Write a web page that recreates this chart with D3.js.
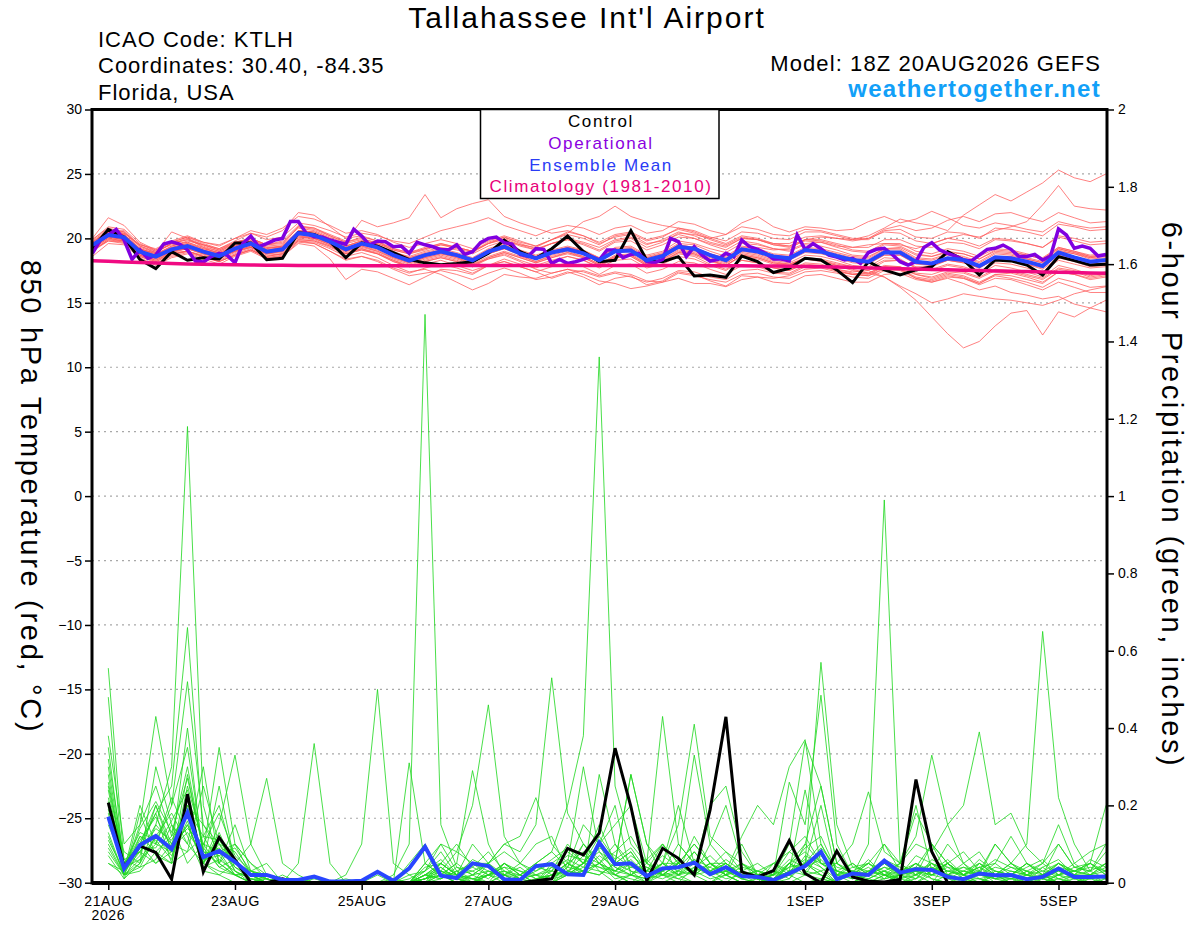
<!DOCTYPE html>
<html>
<head>
<meta charset="utf-8">
<script src="https://d3js.org/d3.v7.min.js"></script>
<style>
  body { margin: 0; background: #fff; }
  svg { display: block; font-family: "Liberation Sans", Arial, Helvetica, sans-serif; }
</style>
</head>
<body>
<svg id="chart" width="1200" height="927"></svg>
<script>
// ---- data ----
const stationName = "Tallahassee Int'l Airport";
const infoLines = ["ICAO Code: KTLH", "Coordinates: 30.40, -84.35", "Florida, USA"];
const modelLine = "Model: 18Z 20AUG2026 GEFS";
const siteName = "weathertogether.net";
const legendLabels = ["Control", "Operational", "Ensemble Mean", "Climatology (1981-2010)"];

const xTickDates = ["2026-08-21T00Z", "2026-08-23T00Z", "2026-08-25T00Z", "2026-08-27T00Z",
  "2026-08-29T00Z", "2026-09-01T00Z", "2026-09-03T00Z", "2026-09-05T00Z"];
const xTickLabels = ["21AUG", "23AUG", "25AUG", "27AUG", "29AUG", "1SEP", "3SEP", "5SEP"];
const tempTicks = [-30, -25, -20, -15, -10, -5, 0, 5, 10, 15, 20, 25, 30];
const precipTicks = [0, 0.2, 0.4, 0.6, 0.8, 1, 1.2, 1.4, 1.6, 1.8, 2];

// 850 hPa temperature, 6-hourly from 18Z 20AUG
const tempControl = [19.2,20.7,20.1,18.35,17.65,18.97,18.3,18.5,18.4,19.65,19.65,18.35,18.45,
  20.45,20.3,19.75,18.5,19.65,19.4,18.9,18.35,18.1,17.95,18.05,18.19,18.84,
  19.87,18.97,18.45,19.2,20.18,18.97,18.19,18.3,20.6,18.3,18.19,18.58,17.08,
  17.16,16.98,18.63,18.19,17.35,17.68,18.45,18.32,17.55,16.56,18.19,17.55,17.16,
  17.55,17.8,18.97,18.32,17.16,18.32,18.25,17.93,17.16,18.58,18.27,17.93,18.0];

const tempMean = [19.48,20.26,20.08,18.97,18.58,19.15,19.4,18.97,18.63,19.2,19.6,18.97,19.15,
  20.4,20.25,19.74,19.15,19.6,19.3,18.7,18.27,18.7,18.97,18.7,18.3,18.97,
  19.35,18.84,18.45,18.9,19.15,18.84,18.3,19.0,19.05,18.3,18.63,19.35,19.2,
  18.7,18.3,19.15,18.97,18.6,18.45,19.1,18.97,18.63,18.32,18.19,18.9,18.9,
  18.19,18.06,18.45,18.32,17.86,18.53,18.45,18.19,17.86,18.9,18.53,18.19,18.32];

const tempClimo = [18.27,18.22,18.17,18.13,18.09,18.05,18.02,17.99,17.97,17.95,17.93,
  17.92,17.91,17.90,17.90,17.89,17.89,17.88,17.88,17.88,17.88,
  17.88,17.88,17.89,17.89,17.89,17.90,17.90,17.90,17.90,17.90,
  17.90,17.90,17.90,17.90,17.90,17.90,17.89,17.89,17.88,17.88,
  17.87,17.86,17.85,17.84,17.82,17.80,17.77,17.74,17.71,17.68,17.65,17.62,17.59,17.56,
  17.53,17.50,17.47,17.44,17.42,17.39,17.37,17.35,17.32,17.30];

// operational run is 3-hourly
const tempOper = [18.84,19.87,20.26,20.7,19.87,18.37,19.1,18.45,18.7,19.56,
  19.74,19.56,19.1,18.24,18.16,18.58,18.84,18.7,18.11,19.6,
  20.18,19.35,19.6,19.87,20.0,21.3,21.3,20.4,20.13,20.1,
  19.87,19.7,19.55,20.7,20.18,19.48,19.8,19.74,19.35,19.4,
  18.84,19.7,19.5,19.35,19.12,19.12,19.5,18.75,18.97,19.67,
  20.0,20.1,19.67,19.56,18.75,18.6,19.2,19.15,18.06,18.37,
  18.06,18.19,18.37,18.58,18.32,19.1,19.1,18.5,18.75,18.84,
  18.19,18.11,18.37,20.0,19.74,18.58,19.35,18.7,18.24,18.37,
  18.84,18.58,19.87,19.35,19.15,18.84,18.4,18.4,18.25,20.26,
  19.15,19.6,19.2,18.7,18.55,18.32,18.45,18.06,18.9,19.15,
  19.23,18.75,18.19,17.93,18.19,19.3,19.67,19.1,18.84,18.63,
  18.32,18.25,18.7,19.15,19.23,19.48,19.15,18.6,18.6,18.75,
  18.32,18.63,20.73,20.26,19.23,19.4,19.23,18.63,18.75];

const tempMembers = [
  [19.9,20.8,20.5,19.3,18.9,19.6,19.9,19.4,19.0,19.6,20.0,19.5,19.7,
   20.8,20.6,20.1,19.6,19.9,19.7,19.2,18.9,19.2,19.6,19.3,19.0,19.6,
   19.9,19.4,19.1,19.6,19.9,19.5,19.0,19.7,19.8,19.1,19.5,20.1,20.0,
   19.6,19.3,20.0,19.9,19.6,19.6,20.1,20.2,20.0,19.9,20.2,20.8,21.5,
   21.2,21.0,20.6,21.8,22.6,23.4,22.9,23.6,24.3,25.3,24.7,24.4,25.0],
  [19.2,20.1,19.9,18.8,18.4,18.9,19.2,18.8,18.5,19.0,19.3,18.8,19.0,
   20.1,20.0,19.5,19.0,19.4,19.0,18.5,18.1,18.5,18.8,18.6,18.2,18.8,
   19.2,18.8,18.4,18.9,19.3,19.0,18.5,19.3,19.4,18.7,19.0,19.8,19.6,
   19.2,18.9,19.6,19.5,19.2,19.1,19.6,19.7,19.4,19.3,19.5,19.6,19.5,
   19.2,19.6,20.0,20.3,20.1,20.6,20.9,21.3,22.6,24.1,22.5,22.3,22.2],
  [19.0,19.8,19.7,18.7,18.3,18.9,19.0,18.7,18.4,18.9,19.3,18.7,18.8,
   19.9,19.8,19.3,18.8,19.1,18.8,18.3,17.9,18.3,18.6,18.3,17.9,18.5,
   18.9,18.5,18.1,18.5,18.8,18.5,17.9,18.6,18.7,18.0,18.3,18.9,18.8,
   18.3,17.9,18.7,18.5,18.1,17.9,18.4,18.3,18.0,17.8,17.5,17.0,16.2,
   15.2,13.9,12.6,11.5,12.0,13.2,14.2,14.4,12.5,14.3,13.9,14.6,15.2],
  [19.3,20.2,20.0,18.9,18.5,19.0,19.3,18.9,18.5,19.0,19.4,18.9,19.0,
   20.2,20.1,19.6,19.0,19.3,19.0,18.4,18.0,18.4,18.7,18.4,18.0,18.6,
   19.0,18.6,18.2,18.6,18.9,18.6,18.0,18.6,18.7,18.0,18.4,19.0,18.8,
   18.3,17.9,18.7,18.5,18.1,18.0,18.4,18.2,17.9,17.6,17.3,17.0,16.3,
   15.7,15.0,15.3,15.7,15.5,15.3,15.2,15.0,14.8,15.2,15.7,16.0,16.25],
  [19.6,20.4,20.2,19.1,18.7,19.2,19.5,19.1,18.8,19.3,19.7,19.1,19.3,
   20.5,20.3,19.8,19.3,19.6,19.3,18.7,18.3,18.8,19.1,18.8,18.4,19.0,
   19.4,19.0,18.5,18.9,19.2,18.9,18.3,18.9,19.0,18.3,18.6,19.2,19.0,
   18.5,18.1,18.8,18.6,18.2,18.0,18.5,18.3,17.9,17.5,17.3,17.8,17.6,
   16.9,16.6,16.9,16.5,16.0,16.3,15.8,15.6,15.3,15.5,14.9,14.6,14.3],
  [19.4,20.5,20.6,19.4,18.9,19.6,20.0,19.5,19.1,19.7,20.0,19.5,19.8,
   21.0,20.8,20.3,19.8,21.4,20.9,21.2,21.6,23.4,21.6,22.3,22.7,23.0,
   21.7,21.2,20.8,20.4,20.6,20.2,19.6,20.1,20.3,19.6,19.8,20.3,20.0,
   19.5,19.1,19.8,19.6,19.2,19.0,19.5,19.4,19.1,18.7,18.6,19.2,19.3,
   18.7,18.6,18.9,18.8,18.4,19.0,18.9,18.7,18.4,19.2,18.9,18.6,18.7],
  [19.7,20.6,20.3,19.2,18.8,19.4,19.7,19.2,18.9,19.4,19.8,19.2,19.4,
   20.6,20.4,19.9,19.4,19.8,19.5,18.9,18.6,19.0,19.3,19.1,18.8,19.4,
   19.8,19.5,19.3,19.9,20.4,21.3,21.7,22.5,21.7,21.3,21.0,20.8,20.5,
   20.0,19.6,20.2,20.0,19.6,19.4,19.9,19.8,19.5,19.1,19.0,19.6,19.6,
   19.0,18.8,19.2,19.0,18.6,19.2,19.1,18.8,18.5,19.3,19.0,18.7,18.8],
  [19.1,19.9,19.7,18.6,18.2,18.8,19.0,18.6,18.2,18.7,19.1,18.5,18.7,
   19.8,19.7,19.2,18.6,18.9,18.5,17.9,17.4,17.6,17.2,16.6,16.0,16.5,
   17.2,17.0,16.9,17.3,17.6,17.2,16.7,16.5,16.1,16.3,16.6,17.3,17.1,
   16.8,16.6,17.2,17.3,17.0,16.9,17.4,17.5,17.3,17.0,16.9,17.5,17.6,
   17.2,16.9,17.3,17.1,16.6,17.2,17.3,17.0,16.6,17.4,17.2,16.9,17.1],
  [19.4,20.1,19.9,18.8,18.4,19.0,19.2,18.8,18.5,19.0,19.4,18.8,19.0,
   20.1,20.0,19.5,18.9,19.2,18.9,18.3,17.8,18.0,18.3,17.9,17.5,17.9,
   18.2,17.8,17.4,16.9,17.3,17.5,17.1,17.4,17.2,16.7,16.6,16.9,16.5,
   16.5,16.25,16.8,17.0,16.9,17.1,17.6,17.7,17.4,17.2,17.3,17.9,17.8,
   17.3,17.2,17.6,17.4,17.0,17.6,17.5,17.2,16.9,17.7,17.5,17.1,17.3],
  [19.8,20.7,20.4,19.4,19.0,19.6,19.9,19.5,19.1,19.6,20.0,19.5,19.6,
   20.9,20.7,20.2,19.7,20.1,19.8,19.2,18.9,19.3,19.6,19.3,19.0,19.6,
   20.0,19.5,19.1,19.6,19.9,19.6,19.1,19.8,20.0,19.3,19.7,20.4,20.3,
   20.0,20.3,21.2,21.7,20.9,20.5,20.9,20.8,20.6,20.7,21.3,21.7,21.2,
   21.5,22.1,21.6,21.0,20.8,21.2,21.0,20.7,20.5,21.3,21.0,20.8,20.9],
  [19.2,20.0,19.8,18.9,18.5,19.0,19.3,19.0,18.6,19.1,19.5,18.9,19.1,
   20.2,20.0,19.6,19.0,19.4,19.1,18.5,18.1,18.5,18.8,18.5,18.1,18.8,
   19.2,18.7,18.2,18.7,19.0,18.6,18.0,18.7,18.8,18.1,18.4,19.1,18.9,
   18.4,18.0,18.9,18.7,18.3,18.1,18.7,18.6,18.3,17.9,17.8,18.5,18.4,
   17.7,17.5,17.9,17.7,17.2,17.9,17.7,17.4,17.0,17.9,17.6,17.2,17.4],
  [19.7,20.5,20.3,19.2,18.8,19.3,19.6,19.2,18.9,19.4,19.8,19.2,19.4,
   20.6,20.5,20.0,19.4,19.8,19.5,18.9,18.5,18.9,19.2,18.9,18.5,19.2,
   19.6,19.1,18.7,19.1,19.4,19.1,18.5,19.2,19.3,18.6,18.9,19.6,19.5,
   19.0,18.6,19.4,19.2,18.8,18.7,19.3,19.2,18.9,18.6,18.5,19.2,19.2,
   18.5,18.4,18.8,18.6,18.2,18.9,18.8,18.5,18.2,19.2,18.9,18.5,18.6],
  [19.9,20.9,20.7,19.6,19.0,19.5,19.7,19.3,19.0,19.5,19.9,19.4,19.5,
   20.9,20.8,20.2,19.7,20.0,19.6,19.1,18.8,19.1,19.5,19.2,18.9,19.6,
   20.1,19.6,19.2,19.6,20.0,19.7,19.3,19.9,20.1,19.5,19.9,20.5,20.2,
   19.7,19.4,20.0,19.9,19.5,19.4,19.9,19.9,19.6,19.3,19.3,19.9,19.9,
   19.4,19.3,19.7,19.6,19.2,19.9,19.8,19.6,19.3,20.2,20.0,19.7,19.8],
  [19.0,19.9,19.8,18.7,18.3,18.8,19.0,18.6,18.3,18.8,19.2,18.6,18.8,
   19.9,19.8,19.4,18.8,19.2,18.8,18.2,17.8,18.2,18.5,18.2,17.8,18.4,
   18.8,18.3,17.9,18.3,18.6,18.3,17.7,18.3,18.4,17.7,18.0,18.6,18.4,
   17.9,17.5,18.3,18.1,17.7,17.5,18.1,18.0,17.6,17.3,17.2,17.8,17.8,
   17.2,17.0,17.4,17.3,16.9,17.5,17.4,17.1,16.8,17.6,17.4,17.0,17.2],
  [19.5,20.4,20.0,19.0,18.7,19.4,19.8,19.5,19.2,19.8,20.4,20.1,20.6,
   22.0,21.8,20.9,20.0,20.2,19.8,19.0,18.5,18.8,19.0,18.7,18.4,19.1,
   19.5,19.0,18.6,19.0,19.3,19.0,18.4,19.1,19.2,18.5,18.8,19.5,19.3,
   18.8,18.4,19.2,19.0,18.6,18.4,19.0,18.9,18.5,18.2,18.1,18.7,18.7,
   18.1,17.9,18.3,18.1,17.7,18.4,18.3,18.0,17.6,18.5,18.2,17.8,17.9],
  [20.0,21.6,21.0,19.7,19.1,19.7,20.1,19.6,19.2,19.7,20.0,19.3,19.3,
   20.5,20.2,19.7,19.1,19.5,19.2,18.6,18.2,18.6,18.9,18.6,18.2,18.9,
   19.3,18.8,18.4,18.8,19.1,18.8,18.2,18.9,19.0,18.3,18.6,19.3,19.1,
   18.6,18.2,19.0,18.8,18.4,18.3,18.9,18.8,18.5,18.1,18.0,18.7,18.7,
   18.0,17.9,18.3,18.1,17.7,18.4,18.3,18.0,17.7,18.7,18.4,18.0,18.1],
  [18.6,19.6,19.5,18.5,17.9,18.5,18.8,18.4,18.0,18.6,19.0,18.4,18.6,
   19.6,19.4,18.4,16.8,17.6,17.4,16.9,16.4,17.0,17.6,17.5,17.2,17.9,
   18.4,18.0,17.7,18.2,18.6,18.3,17.8,18.5,18.6,17.9,18.2,18.9,18.7,
   18.2,17.9,18.6,18.4,18.0,17.9,18.5,18.4,18.1,17.8,17.7,18.3,18.3,
   17.7,17.6,18.0,17.8,17.4,18.1,18.0,17.7,17.4,18.3,18.0,17.7,17.8],
  [19.3,20.2,20.2,19.1,18.9,20.5,20.0,19.3,18.8,19.3,19.7,19.1,19.3,
   20.5,20.3,19.9,19.3,19.7,19.4,18.8,18.4,18.8,19.1,18.8,18.4,19.1,
   19.5,19.0,18.6,19.0,19.3,19.0,18.4,19.1,19.2,18.5,18.8,19.5,19.3,
   18.8,18.4,19.2,19.1,18.7,18.6,19.2,19.1,18.8,18.5,18.4,19.1,19.1,
   18.4,18.3,18.7,18.5,18.1,18.8,18.7,18.4,18.1,19.1,18.8,18.4,18.5],
  [19.5,20.2,20.0,18.9,18.6,19.1,19.3,18.9,18.7,19.2,19.5,18.9,19.1,
   20.3,20.2,19.7,19.1,19.5,19.2,18.6,18.2,18.6,18.9,18.5,18.0,18.4,
   18.7,18.2,17.6,17.3,17.6,17.4,17.0,17.3,17.0,16.6,16.9,17.5,17.4,
   17.0,16.8,17.5,17.6,17.3,17.2,17.8,17.9,17.6,17.4,17.5,18.2,18.3,
   17.8,17.8,18.3,18.2,17.9,18.6,18.6,18.4,18.1,19.0,18.8,18.5,18.7],
  [19.6,20.5,20.3,19.2,18.7,19.3,19.6,19.1,18.8,19.4,19.8,19.3,19.4,
   20.6,20.5,20.0,19.4,19.8,19.6,19.1,18.8,19.2,19.5,19.3,19.0,19.7,
   20.1,19.7,19.4,19.9,20.3,20.0,19.5,20.2,20.4,19.8,20.1,20.8,20.6,
   20.1,19.8,20.5,20.4,20.0,19.9,20.5,20.5,20.2,19.9,19.9,20.6,20.7,
   20.1,20.0,20.5,20.4,20.0,20.8,20.7,20.5,20.2,21.1,20.9,20.6,20.7],
  [19.6,20.3,20.4,19.5,19.2,19.8,20.2,19.7,19.4,20.0,20.4,19.9,20.1,
   21.2,21.0,20.6,20.1,20.4,20.2,19.8,19.6,20.1,20.6,20.9,21.2,21.6,
   21.0,20.6,20.2,20.7,21.0,20.8,20.3,20.8,21.0,20.4,20.6,21.3,21.1,
   20.6,20.3,20.9,20.7,20.3,20.2,20.7,20.6,20.3,20.0,20.0,20.5,20.4,
   19.8,19.6,20.0,19.8,19.4,20.0,19.9,19.6,19.3,20.1,19.8,19.5,19.6],
  [19.1,19.8,19.6,18.6,18.1,18.6,18.9,18.5,18.2,18.7,19.1,18.6,18.8,
   19.8,19.6,19.0,18.4,18.6,18.2,17.6,17.1,17.3,17.5,17.2,16.8,17.3,
   17.7,17.3,16.8,17.0,17.4,17.0,16.4,16.9,17.1,16.4,16.7,17.4,17.2,
   16.7,16.3,17.1,17.0,16.6,16.5,17.1,17.2,16.9,16.6,16.6,17.2,17.3,
   16.8,16.6,17.0,16.9,16.5,17.2,17.1,16.8,16.5,17.4,17.2,16.8,17.0],
  [19.7,20.6,20.5,19.5,19.1,19.7,20.1,19.7,19.5,20.0,20.6,20.3,20.8,
   21.7,21.5,21.0,20.4,20.6,20.3,19.7,19.3,19.6,19.9,19.6,19.2,19.8,
   20.2,19.8,19.4,19.9,20.5,20.2,19.7,20.3,20.5,19.9,20.2,20.7,20.4,
   19.9,19.5,20.1,19.9,19.5,19.3,19.8,19.7,19.3,19.0,18.9,19.5,19.4,
   18.8,18.6,19.0,18.8,18.4,19.1,19.0,18.7,18.4,19.3,19.0,18.6,18.7],
  [19.2,20.0,19.8,18.7,18.2,18.7,19.0,18.6,18.2,18.7,19.1,18.5,18.6,
   19.7,19.6,19.0,18.3,18.6,18.3,17.7,17.3,17.7,18.0,17.7,17.3,17.9,
   18.2,17.8,17.4,17.8,18.1,17.8,17.2,17.9,18.0,17.3,17.6,18.2,18.1,
   17.6,17.2,17.9,17.8,17.4,17.3,17.9,17.8,17.5,17.2,17.1,17.7,17.6,
   17.0,16.8,17.2,17.0,16.5,17.1,16.9,16.6,16.2,16.9,16.6,16.2,16.3],
  [19.4,20.3,20.1,19.0,18.6,19.2,19.5,19.0,18.7,19.2,19.6,19.0,19.2,
   20.4,20.3,19.8,19.2,19.6,19.3,18.7,18.3,18.7,19.0,18.7,18.3,19.0,
   19.4,18.9,18.5,18.9,19.2,18.9,18.3,19.0,19.1,18.4,18.7,19.4,19.2,
   18.8,18.5,19.3,19.3,19.1,19.2,19.9,20.1,20.0,19.8,20.0,20.7,21.0,
   20.6,20.8,21.4,21.7,21.3,21.9,22.0,21.6,21.3,22.0,21.6,21.2,21.3],
  [19.3,20.1,19.9,18.9,18.5,19.0,19.2,18.8,18.5,19.0,19.3,18.8,18.9,
   20.0,19.9,19.4,18.8,19.1,18.8,18.2,17.8,18.2,18.5,18.2,17.8,18.5,
   18.9,18.5,18.1,18.5,18.9,18.5,17.9,18.5,18.6,17.9,18.2,18.8,18.6,
   18.0,17.6,18.3,18.1,17.7,17.5,18.0,17.9,17.5,17.2,17.1,17.6,17.5,
   16.9,16.7,17.1,16.9,16.4,16.9,16.8,16.4,16.0,16.6,16.2,15.8,15.8]
];

// 6-hour precipitation (inches), valid 00Z 21AUG onward
const precipControl = [0.207,0.04,0.095,0.078,0.009,0.229,0.028,0.117,0.06,0.0,0.0,0.01,0,0,0.003,0,
  0,0,0,0,0,0,0,0,0,0,0,0.005,0.01,0.089,0.072,0.128,
  0.348,0.197,0.005,0.089,0.063,0.02,0.188,0.429,0.028,0.015,0.031,0.109,0.024,0,0.082,0.015,
  0.004,0.002,0.008,0.267,0.08,0,0,0,0,0,0,0,0,0,0,0];

const precipMean = [0.171,0.037,0.0975,0.121,0.087,0.181,0.066,0.082,0.054,0.02,0.02,0.007,0.007,0.016,0.003,0.003,
  0.005,0.028,0.005,0.037,0.093,0.018,0.012,0.05,0.043,0.009,0.007,0.043,0.048,0.022,0.02,0.104,
  0.048,0.05,0.017,0.037,0.04,0.052,0.022,0.04,0.017,0.015,0.007,0.024,0.043,0.08,0.009,0.024,
  0.02,0.057,0.026,0.035,0.033,0.015,0.009,0.024,0.019,0.02,0.009,0.015,0.037,0.015,0.015,0.016];

const precipMembers = [
  [0.12,0.02,0.05,0.15,0.30,1.18,0.20,0.05,0.02,0,0,0,0.01,0,0,0,
   0,0,0,0,0.03,0.08,0.02,0,0,0.05,0.02,0,0.01,0.04,0.10,0.06,
   0.02,0,0,0.03,0.01,0,0,0.02,0.05,0.01,0,0,0.02,0.08,0,0,
   0,0,0.02,0.05,0.01,0,0,0.03,0,0,0,0.01,0,0,0.02,0],
  [0.25,0.05,0.10,0.20,0.08,0.15,0.05,0.12,0.03,0,0.02,0,0,0.01,0,0,
   0,0,0.02,0.10,1.47,0.15,0.04,0.02,0.05,0,0,0,0.02,0.05,0.08,0.03,
   0,0.02,0.06,0.10,0.02,0,0,0,0.03,0.01,0,0.05,0.08,0.04,0,0,
   0,0.02,0.01,0,0,0.05,0.02,0,0,0,0.03,0,0.01,0,0,0],
  [0.18,0.02,0.12,0.08,0.05,0.25,0.10,0.04,0.02,0,0,0,0,0,0,0,
   0,0,0,0,0.02,0.05,0.10,0.04,0.02,0.01,0,0.05,0.08,0.20,0.38,1.36,
   0.25,0.10,0.05,0.02,0,0.04,0.02,0,0,0,0.01,0.03,0.05,0.02,0,0,
   0.01,0.03,0,0,0.02,0.04,0.01,0,0,0,0,0.02,0,0,0.01,0],
  [0.05,0.03,0.08,0.15,0.10,0.20,0.05,0.10,0.08,0.02,0,0,0,0,0,0,
   0,0.02,0,0,0.05,0.10,0.03,0,0.02,0.04,0.01,0,0,0.05,0.02,0.10,
   0.05,0.03,0,0.02,0.05,0.02,0,0.03,0.01,0,0,0.05,0.10,0.25,0.05,0.02,
   0.10,0.99,0.05,0.18,0.10,0.02,0,0.05,0.02,0,0,0.04,0.01,0,0,0.02],
  [0.30,0.04,0.06,0.10,0.22,0.12,0.03,0.02,0,0,0,0,0,0,0,0,
   0,0,0,0.02,0,0.05,0.02,0.10,0.05,0.01,0,0,0.03,0.02,0.05,0.10,
   0.04,0.02,0,0,0.02,0.08,0.03,0.05,0.02,0.01,0,0.02,0.05,0.03,0,0,
   0.02,0.05,0.03,0.04,0.10,0.05,0.08,0.03,0.10,0.05,0.10,0.65,0.22,0.10,0.03,0.08],
  [0.555,0.05,0.10,0.18,0.25,0.66,0.12,0.20,0.05,0.10,0.02,0,0,0,0,0,
   0,0,0.01,0,0.02,0.03,0.01,0,0.03,0.02,0,0,0.01,0.04,0.03,0.02,
   0.05,0.08,0.02,0.05,0.03,0.12,0.05,0.02,0,0.01,0.02,0.08,0.05,0.57,0.15,0.04,
   0.05,0.03,0.02,0.01,0.05,0.03,0.02,0.01,0,0,0.02,0.05,0.02,0,0,0],
  [0.38,0.10,0.15,0.43,0.20,0.52,0.15,0.08,0.10,0.05,0.02,0,0.05,0.36,0.05,0,
   0,0.03,0,0,0.01,0.02,0,0,0.02,0.05,0.02,0,0,0.02,0.05,0.04,
   0.02,0,0.03,0.10,0.05,0.33,0.10,0.05,0.02,0,0,0.03,0.02,0.01,0,0,
   0.02,0.10,0.05,0.02,0,0.02,0.04,0.02,0.01,0,0,0.02,0.05,0.03,0.02,0.01],
  [0.20,0.08,0.05,0.12,0.18,0.10,0.30,0.05,0.02,0.03,0.01,0,0,0,0,0.02,
   0.10,0.50,0.05,0.02,0.03,0.10,0.08,0.20,0.46,0.12,0.05,0.02,0,0.02,0.03,0.05,
   0.01,0.02,0.04,0.02,0.01,0.03,0.05,0.02,0,0,0.02,0.04,0.05,0.02,0,0.03,
   0,0.01,0.02,0.03,0.05,0.01,0,0,0.02,0.05,0.03,0.01,0,0.02,0.03,0.05],
  [0.10,0.02,0.03,0.08,0.12,0.30,0.08,0.35,0.10,0.02,0,0,0,0,0,0,
   0,0,0,0.31,0.05,0.02,0.01,0,0.05,0.10,0.08,0.15,0.53,0.18,0.10,0.05,
   0.08,0.12,0.05,0.43,0.10,0.05,0.02,0.03,0.01,0,0.05,0.02,0,0.01,0,0,
   0.01,0,0.02,0.03,0.01,0,0.02,0.04,0.02,0,0.01,0.02,0,0,0.02,0.01],
  [0.24,0.03,0.20,0.10,0.08,0.15,0.05,0.02,0.05,0.01,0,0,0,0,0,0,
   0,0,0,0,0.02,0.05,0.02,0.01,0,0.02,0.05,0.10,0.12,0.03,0.02,0.28,
   0.10,0.05,0.02,0.05,0.15,0.41,0.12,0.08,0.05,0.03,0.02,0.26,0.15,0.485,0.10,0.02,
   0.05,0.02,0,0.01,0.03,0.02,0.05,0.01,0,0.01,0,0.02,0.05,0.02,0,0],
  [0.15,0.05,0.08,0.05,0.10,0.08,0.12,0.05,0.15,0.03,0.05,0,0,0,0,0,
   0,0,0,0,0.05,0.02,0.05,0.29,0.10,0.02,0,0,0.02,0.05,0.03,0.02,
   0.05,0.28,0.10,0.02,0.05,0.10,0.05,0.02,0.03,0.05,0.02,0.10,0.365,0.25,0.05,0.10,
   0.235,0.08,0.05,0.12,0.33,0.15,0.05,0.08,0.02,0.05,0.02,0,0.02,0.05,0.02,0.03],
  [0.08,0.02,0.04,0.06,0.15,0.05,0.10,0.08,0.02,0,0.01,0,0,0,0,0,
   0,0,0,0,0.01,0.03,0.02,0.05,0.02,0,0.01,0,0.04,0.02,0.03,0.05,
   0.03,0.02,0.01,0.02,0.05,0.03,0.20,0.25,0.08,0.02,0.05,0.03,0.24,0.05,0.02,0.01,
   0.03,0.02,0.05,0.10,0.08,0.15,0.20,0.39,0.15,0.18,0.09,0.05,0.10,0.04,0.05,0.20],
  [0.35,0.03,0.15,0.25,0.12,0.18,0.05,0.15,0.33,0.10,0.27,0.05,0.02,0,0,0,
   0,0,0,0,0,0.02,0.05,0.02,0,0,0.02,0.05,0.02,0.03,0.05,0.10,
   0.02,0.05,0.02,0.01,0.03,0.02,0.05,0.02,0.10,0.02,0.01,0.05,0.03,0.02,0,0,
   0,0.02,0,0.02,0.04,0.02,0.01,0,0.03,0.02,0,0,0.02,0.03,0.05,0.02],
  [0.05,0.02,0.10,0.05,0.08,0.20,0.15,0.10,0.05,0.02,0,0.02,0,0,0,0,
   0,0,0,0,0,0.03,0.08,0.05,0.05,0.10,0.12,0.22,0.10,0.05,0.30,0.08,
   0.05,0.28,0.10,0.05,0.05,0.02,0.10,0.20,0.05,0.02,0.01,0.05,0.02,0.03,0.05,0.02,
   0.03,0.05,0.02,0,0.03,0.05,0.02,0.03,0.01,0.02,0.05,0.02,0,0.01,0.02,0.05],
  [0.48,0.01,0.05,0.30,0.15,0.10,0.05,0.03,0.02,0.02,0,0,0,0,0,0,
   0,0,0,0.05,0.10,0.02,0,0,0.02,0.05,0.02,0,0.05,0.02,0.10,0.05,
   0.02,0.01,0,0.05,0.20,0.05,0.02,0.03,0.12,0.20,0.15,0.30,0.37,0.10,0.02,0.05,
   0.02,0.03,0.05,0.20,0.03,0.05,0.02,0.04,0.05,0.12,0.05,0.02,0.10,0.04,0.03,0.10],
  [0.22,0.04,0.12,0.10,0.20,0.35,0.08,0.05,0.10,0.05,0.01,0,0,0,0,0,
   0,0,0,0,0.04,0.05,0.02,0.03,0.05,0.08,0.05,0.03,0.05,0.08,0.05,0.10,
   0.15,0.20,0.05,0.10,0.05,0.02,0.05,0.03,0.05,0.02,0.01,0.02,0.05,0.08,0.02,0.02,
   0.05,0.10,0.03,0.05,0.02,0.05,0.02,0,0.02,0.01,0.03,0.05,0.15,0.05,0.08,0.10],
  [0.13,0.02,0.18,0.07,0.05,0.08,0.25,0.10,0.03,0.01,0,0,0,0,0,0,
   0,0,0,0,0.01,0.04,0.01,0,0.02,0.03,0.01,0.02,0.03,0.10,0.05,0.08,
   0.03,0.05,0.03,0.02,0.02,0.05,0.03,0.05,0.02,0.01,0.03,0.02,0.10,0.05,0.03,0.05,
   0.02,0.01,0.05,0.02,0.10,0.05,0.02,0.05,0.03,0.02,0.05,0.02,0.01,0.02,0.01,0.02],
  [0.07,0.01,0.09,0.18,0.05,0.22,0.05,0.25,0.05,0.02,0.02,0,0,0,0,0,
   0,0,0,0,0.02,0.01,0.03,0.05,0.03,0.02,0.02,0.05,0.08,0.04,0.15,0.10,
   0.20,0.02,0.05,0.03,0.10,0.05,0.02,0.05,0.02,0.03,0.05,0.08,0.12,0.05,0.05,0.03,
   0.02,0.05,0.02,0.05,0.03,0.10,0.05,0.02,0.05,0.02,0.05,0.03,0.05,0.02,0.05,0.03],
  [0.16,0.06,0.04,0.12,0.08,0.40,0.06,0.07,0.02,0,0,0,0,0,0,0,
   0,0,0,0,0,0.02,0,0.02,0.05,0.02,0,0,0,0.03,0.02,0.05,
   0.10,0.03,0.02,0.05,0.02,0.03,0.01,0.02,0,0,0,0.01,0.05,0.20,0.02,0,
   0.03,0.02,0.01,0.03,0.02,0.05,0.01,0.02,0.01,0.01,0.02,0.01,0.02,0.01,0,0.01],
  [0.28,0.03,0.07,0.20,0.10,0.14,0.10,0.18,0.07,0.03,0.01,0,0,0,0,0.01,
   0,0,0,0,0.01,0.05,0.02,0.01,0,0.02,0.04,0.01,0.02,0.02,0.05,0.15,
   0.05,0.08,0.02,0.03,0.05,0.10,0.05,0.05,0.02,0.03,0.01,0.02,0.05,0.10,0.03,0.02,
   0.04,0.01,0.02,0.05,0.02,0.01,0.03,0.02,0.10,0.05,0.02,0.01,0.05,0.03,0.02,0.05],
  [0.09,0.02,0.06,0.12,0.07,0.16,0.04,0.06,0.03,0.01,0,0,0,0,0,0,
   0,0,0,0,0.02,0.04,0.01,0.02,0.03,0.01,0,0.01,0.02,0.05,0.03,0.07,
   0.04,0.02,0.01,0.03,0.06,0.02,0.03,0.01,0.02,0.01,0.01,0.03,0.06,0.04,0.01,0.02,
   0.01,0.03,0.01,0.02,0.04,0.02,0.01,0.01,0.02,0.01,0.01,0.02,0.03,0.01,0.01,0.02],
  [0.21,0.04,0.11,0.17,0.09,0.13,0.07,0.09,0.04,0.02,0.01,0,0,0,0,0,
   0,0,0,0.01,0.03,0.06,0.02,0.04,0.08,0.03,0.01,0.03,0.06,0.09,0.05,0.12,
   0.06,0.09,0.03,0.07,0.04,0.08,0.03,0.06,0.03,0.02,0.01,0.04,0.09,0.12,0.03,0.01,
   0.02,0.04,0.02,0.07,0.05,0.03,0.02,0.06,0.03,0.02,0.04,0.06,0.02,0.03,0.04,0.03],
  [0.11,0.03,0.14,0.21,0.13,0.27,0.09,0.04,0.06,0.02,0,0,0,0,0,0,
   0,0,0,0,0,0.01,0.03,0.01,0.02,0.04,0.03,0.02,0.01,0.02,0.04,0.03,
   0.02,0.04,0.06,0.02,0.03,0.06,0.04,0.08,0.03,0.01,0.02,0.06,0.04,0.09,0.04,0.03,
   0.05,0.02,0.03,0.01,0.06,0.04,0.03,0.02,0.04,0.03,0.02,0.01,0.03,0.02,0.06,0.04],
  [0.32,0.06,0.08,0.14,0.11,0.19,0.12,0.11,0.05,0.03,0.02,0,0,0,0,0,
   0,0,0,0,0.01,0.02,0.02,0.06,0.04,0.02,0.01,0.02,0.04,0.07,0.06,0.04,
   0.03,0.06,0.02,0.04,0.02,0.04,0.07,0.03,0.02,0.01,0.02,0.02,0.04,0.06,0.02,0.04,
   0.03,0.06,0.04,0.03,0.02,0.03,0.04,0.03,0.06,0.04,0.02,0.03,0.02,0.04,0.03,0.01],
  [0.19,0.03,0.09,0.09,0.16,0.24,0.05,0.13,0.04,0.01,0.01,0,0,0,0,0,
   0,0,0,0,0.01,0.03,0.01,0.01,0.02,0.03,0.02,0.04,0.03,0.06,0.04,0.09,
   0.07,0.04,0.03,0.05,0.02,0.06,0.02,0.04,0.01,0.02,0.03,0.01,0.07,0.05,0.03,0.02,
   0.06,0.02,0.02,0.04,0.03,0.06,0.02,0.04,0.01,0.03,0.02,0.04,0.06,0.02,0.02,0.04],
  [0.26,0.05,0.13,0.11,0.06,0.28,0.08,0.07,0.09,0.03,0.02,0.01,0,0,0,0,
   0,0,0,0,0.02,0.01,0.04,0.03,0.01,0.05,0.03,0.01,0.02,0.03,0.07,0.05,
   0.03,0.07,0.04,0.02,0.05,0.03,0.04,0.02,0.04,0.03,0.02,0.05,0.03,0.07,0.02,0.03,
   0.02,0.04,0.03,0.02,0.05,0.02,0.03,0.05,0.02,0.04,0.03,0.02,0.04,0.03,0.05,0.02]
];

// ---- chart ----
const runStart = Date.UTC(2026, 7, 20, 18);
const HOUR = 3600 * 1000;
const stepTime = (i, h) => new Date(runStart + i * h * HOUR);
const parseTick = s => new Date(s.replace('Z', ':00:00Z'));

const plot = { left: 92, right: 1107, top: 109.5, bottom: 883 };

const x = d3.scaleUtc()
  .domain([stepTime(0, 6), stepTime(64, 6)])
  .range([92.45, 1106]);
const yT = d3.scaleLinear().domain([-30, 30]).range([882.7, 109.5]);
const yP = d3.scaleLinear().domain([0, 2]).range([882.7, 109.5]);

const svg = d3.select('#chart');
svg.append('rect').attr('width', 1200).attr('height', 927).attr('fill', '#fff');

svg.append('clipPath').attr('id', 'plot-clip')
  .append('rect')
  .attr('x', plot.left).attr('y', plot.top)
  .attr('width', plot.right - plot.left).attr('height', plot.bottom - plot.top);

// dotted grid at temperature ticks
svg.append('g').selectAll('line')
  .data(tempTicks.filter(d => d > -30 && d < 30))
  .join('line')
  .attr('x1', plot.left).attr('x2', plot.right)
  .attr('y1', d => yT(d)).attr('y2', d => yT(d))
  .attr('stroke', '#a8a8a8').attr('stroke-width', 1.2)
  .attr('stroke-dasharray', '2,4');

const lines = svg.append('g').attr('clip-path', 'url(#plot-clip)');

const tempLine = d3.line().x((d, i) => x(stepTime(i, 6))).y(d => yT(d));
const operLine = d3.line().x((d, i) => x(stepTime(i, 3))).y(d => yT(d));
const precipLine = d3.line().x((d, i) => x(stepTime(i + 1, 6))).y(d => yP(d));

lines.append('g').selectAll('path')
  .data(tempMembers).join('path')
  .attr('d', tempLine)
  .attr('fill', 'none').attr('stroke', '#ff5a5a')
  .attr('stroke-width', 0.9).attr('stroke-opacity', 0.85);

lines.append('g').selectAll('path')
  .data(precipMembers).join('path')
  .attr('d', precipLine)
  .attr('fill', 'none').attr('stroke', '#1fd81f')
  .attr('stroke-width', 0.9).attr('stroke-opacity', 0.9);

function drawSeries(data, gen, color, width) {
  lines.append('path').datum(data)
    .attr('d', gen)
    .attr('fill', 'none')
    .attr('stroke', color)
    .attr('stroke-width', width)
    .attr('stroke-linejoin', 'miter');
}

drawSeries(precipControl, precipLine, '#000', 3);
drawSeries(precipMean, precipLine, '#2846ff', 4);
drawSeries(tempControl, tempLine, '#000', 3);
drawSeries(tempOper, operLine, '#8000e0', 3.5);
drawSeries(tempMean, tempLine, '#2846ff', 4);
drawSeries(tempClimo, tempLine, '#f00a82', 3.5);

// frame
svg.append('rect')
  .attr('x', plot.left).attr('y', plot.top)
  .attr('width', plot.right - plot.left).attr('height', plot.bottom - plot.top)
  .attr('fill', 'none').attr('stroke', '#000').attr('stroke-width', 3);
svg.append('line')
  .attr('x1', plot.left).attr('x2', plot.right)
  .attr('y1', plot.bottom).attr('y2', plot.bottom)
  .attr('stroke', '#000').attr('stroke-width', 4);

// axes
function styleAxis(g) {
  g.select('.domain').remove();
  g.selectAll('.tick line').attr('stroke', '#000').attr('stroke-width', 1.5);
  g.selectAll('.tick text').attr('fill', '#000');
  g.attr('font-family', '"Liberation Sans", Arial, sans-serif').attr('font-size', 14);
}

svg.append('g')
  .attr('transform', `translate(${plot.left - 1},0)`)
  .call(d3.axisLeft(yT).tickValues(tempTicks).tickSize(6).tickPadding(3).tickFormat(d3.format('d')))
  .call(styleAxis);

svg.append('g')
  .attr('transform', `translate(${plot.right + 1},0)`)
  .call(d3.axisRight(yP).tickValues(precipTicks).tickSize(6).tickPadding(4).tickFormat(d3.format('~g')))
  .call(styleAxis);

const xAxis = svg.append('g')
  .attr('transform', `translate(0,${plot.bottom + 1})`)
  .call(d3.axisBottom(x)
    .tickValues(xTickDates.map(parseTick))
    .tickSize(6).tickPadding(6)
    .tickFormat((d, i) => xTickLabels[i]))
  .call(styleAxis);
xAxis.selectAll('.tick text').attr('letter-spacing', 0.6);

svg.append('text')
  .attr('x', x(parseTick(xTickDates[0])))
  .attr('y', 920)
  .attr('text-anchor', 'middle')
  .attr('font-size', 14).attr('letter-spacing', 0.6)
  .text('2026');

// axis titles
svg.append('text')
  .attr('transform', 'translate(21,497) rotate(90)')
  .attr('text-anchor', 'middle')
  .attr('font-size', 29).attr('letter-spacing', 2.7)
  .text('850 hPa Temperature (red, \u00B0C)');

svg.append('text')
  .attr('transform', 'translate(1162,495) rotate(90)')
  .attr('text-anchor', 'middle')
  .attr('font-size', 29).attr('letter-spacing', 2.6)
  .text('6-hour Precipitation (green, inches)');

// header
svg.append('text')
  .attr('x', 587).attr('y', 28)
  .attr('text-anchor', 'middle')
  .attr('font-size', 30).attr('letter-spacing', 2)
  .text(stationName);

svg.append('g').selectAll('text')
  .data(infoLines).join('text')
  .attr('x', 98).attr('y', (d, i) => 47 + i * 26.3)
  .attr('font-size', 22).attr('letter-spacing', 1)
  .text(d => d);

svg.append('text')
  .attr('x', 1101).attr('y', 71)
  .attr('text-anchor', 'end')
  .attr('font-size', 22).attr('letter-spacing', 1.1)
  .text(modelLine);

svg.append('text')
  .attr('x', 1101).attr('y', 97)
  .attr('text-anchor', 'end')
  .attr('font-size', 24).attr('font-weight', 'bold').attr('letter-spacing', 1.3)
  .attr('fill', '#12a0f8')
  .text(siteName);

// legend
const legendColors = ['#000', '#8a00e0', '#2a3cf5', '#e8007a'];
svg.append('rect')
  .attr('x', 480.5).attr('y', plot.top)
  .attr('width', 238.5).attr('height', 89)
  .attr('fill', '#fff').attr('stroke', '#000').attr('stroke-width', 1.5);
svg.append('g').selectAll('text')
  .data(legendLabels).join('text')
  .attr('x', 601).attr('y', (d, i) => 127 + i * 21.8)
  .attr('text-anchor', 'middle')
  .attr('font-size', 17).attr('letter-spacing', 1.6)
  .attr('fill', (d, i) => legendColors[i])
  .text(d => d);
</script>
</body>
</html>
